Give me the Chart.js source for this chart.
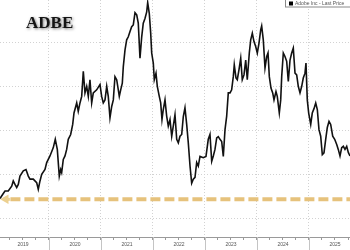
<!DOCTYPE html>
<html>
<head>
<meta charset="utf-8">
<script src="https://cdn.jsdelivr.net/npm/chart.js@4.4.1/dist/chart.umd.min.js"></script>
<style>
	html, body { margin: 0; padding: 0; background: #fff; }
	#wrap { width: 350px; height: 250px; position: relative; }
</style>
</head>
<body>
<div id="wrap"><canvas id="myChart"></canvas></div>
<script>
const tickerName = 'ADBE'
const legendLabel = 'Adobe Inc - Last Price'
const yearLabels = ['2019', '2020', '2021', '2022', '2023', '2024', '2025']
const gridLevels = [200, 300, 400, 500, 600]
const baseLevel = 243

// decimal years
const priceTimes = [
	2019.058, 2019.115, 2019.154, 2019.217, 2019.283, 2019.313, 2019.346, 2019.379, 2019.410, 2019.442,
	2019.506, 2019.558, 2019.602, 2019.635, 2019.698, 2019.763, 2019.794, 2019.827, 2019.860, 2019.923,
	2019.956, 2020.019, 2020.083, 2020.121, 2020.160, 2020.198, 2020.225, 2020.244, 2020.275, 2020.308,
	2020.340, 2020.371, 2020.417, 2020.456, 2020.481, 2020.533, 2020.563, 2020.596, 2020.629, 2020.660,
	2020.692, 2020.725, 2020.756, 2020.788, 2020.821, 2020.852, 2020.917, 2020.981, 2021.013, 2021.044,
	2021.077, 2021.110, 2021.140, 2021.173, 2021.206, 2021.237, 2021.269, 2021.302, 2021.333, 2021.352,
	2021.379, 2021.410, 2021.429, 2021.462, 2021.494, 2021.525, 2021.558, 2021.590, 2021.621, 2021.654,
	2021.687, 2021.717, 2021.750, 2021.783, 2021.813, 2021.846, 2021.879, 2021.898, 2021.929, 2021.956,
	2021.975, 2022.006, 2022.025, 2022.058, 2022.083, 2022.121, 2022.148, 2022.173, 2022.198, 2022.231,
	2022.263, 2022.294, 2022.327, 2022.360, 2022.390, 2022.423, 2022.456, 2022.487, 2022.519, 2022.552,
	2022.583, 2022.615, 2022.648, 2022.679, 2022.712, 2022.744, 2022.775, 2022.808, 2022.840, 2022.871,
	2022.904, 2022.967, 2023.019, 2023.063, 2023.096, 2023.129, 2023.160, 2023.192, 2023.225, 2023.256,
	2023.288, 2023.321, 2023.352, 2023.385, 2023.417, 2023.448, 2023.481, 2023.513, 2023.544, 2023.563,
	2023.596, 2023.621, 2023.654, 2023.687, 2023.717, 2023.750, 2023.783, 2023.813, 2023.852, 2023.879,
	2023.910, 2023.942, 2023.975, 2024.006, 2024.038, 2024.071, 2024.090, 2024.121, 2024.154, 2024.187,
	2024.212, 2024.237, 2024.269, 2024.302, 2024.327, 2024.365, 2024.390, 2024.429, 2024.456, 2024.475,
	2024.506, 2024.538, 2024.571, 2024.602, 2024.635, 2024.667, 2024.698, 2024.731, 2024.763, 2024.794,
	2024.827, 2024.860, 2024.890, 2024.923, 2024.942, 2024.967, 2024.994, 2025.033, 2025.063, 2025.096,
	2025.129, 2025.160, 2025.192, 2025.225, 2025.256, 2025.288, 2025.321, 2025.352, 2025.385, 2025.417,
	2025.456, 2025.494, 2025.533, 2025.563, 2025.596, 2025.629, 2025.660, 2025.692, 2025.725, 2025.756,
	2025.788
]

// last price in USD
const priceValues = [
	245, 255, 262, 262, 273, 285, 277, 270, 277, 296,
	308, 311, 296, 289, 289, 281, 266, 285, 300, 311,
	327, 342, 361, 380, 357, 296, 311, 304, 334, 342,
	357, 380, 391, 414, 440, 463, 444, 463, 478, 535,
	486, 501, 478, 516, 463, 486, 493, 505, 478, 463,
	470, 501, 478, 429, 455, 470, 523, 516, 493, 478,
	493, 508, 546, 584, 607, 614, 626, 637, 641, 669,
	664, 645, 565, 614, 645, 656, 671, 692, 667, 622,
	577, 554, 516, 531, 501, 478, 463, 425, 448, 470,
	433, 410, 425, 387, 410, 436, 380, 372, 387, 391,
	432, 452, 414, 372, 319, 280, 289, 293, 327, 319,
	341, 338, 341, 380, 391, 330, 342, 357, 383, 386,
	380, 375, 341, 402, 433, 486, 486, 493, 523, 550,
	520, 516, 539, 565, 516, 527, 561, 516, 577, 607,
	622, 603, 592, 577, 599, 630, 639, 607, 543, 569,
	577, 523, 497, 486, 470, 489, 478, 440, 470, 523,
	577, 569, 558, 512, 561, 577, 588, 531, 527, 501,
	486, 501, 520, 531, 554, 470, 440, 414, 440, 450,
	463, 448, 402, 387, 345, 349, 380, 407, 421, 414,
	387, 380, 368, 357, 342, 361, 364, 357, 364, 350,
	342
]

const lineColor = '#111111'
const baseColor = '#e6c27c'
const gridColor = '#d2d2d2'

var pricePoints = []
for (var i = 0; i < priceTimes.length; i++) {
	pricePoints.push({ x: priceTimes[i], y: priceValues[i] })
}

var xStart = priceTimes[0]
var xEnd = priceTimes[priceTimes.length - 1]

// quarter ticks, label sits in the middle of each year
var quarterTicks = []
yearLabels.forEach(function (label) {
	var yr = Number(label)
	for (var q = 0; q < 4; q++) {
		var v = yr + q * 0.25
		if (v > xStart && v < xEnd) quarterTicks.push({ value: v })
	}
})

const decorations = {
	id: 'decorations',
	afterDatasetsDraw(chart) {
		var ctx = chart.ctx
		var xs = chart.scales.x
		var area = chart.chartArea
		ctx.save()

		// solid x axis line
		ctx.strokeStyle = '#9a9a9a'
		ctx.lineWidth = 1
		ctx.beginPath()
		ctx.moveTo(0, Math.round(area.bottom) + 0.5)
		ctx.lineTo(chart.width, Math.round(area.bottom) + 0.5)
		ctx.stroke()

		// year separators run on below the axis
		ctx.strokeStyle = '#c4c4c4'
		yearLabels.forEach(function (label) {
			var px = xs.getPixelForValue(Number(label))
			if (px < 1) return
			px = Math.round(px) + 0.5
			ctx.beginPath()
			ctx.moveTo(px, area.bottom)
			ctx.lineTo(px, chart.height)
			ctx.stroke()
		})

		// ticker title with soft shadow
		ctx.font = 'bold 17px "Liberation Serif", "DejaVu Serif", serif'
		ctx.textBaseline = 'alphabetic'
		ctx.shadowColor = 'rgba(0,0,0,0.55)'
		ctx.shadowBlur = 3
		ctx.shadowOffsetX = 1
		ctx.shadowOffsetY = 1
		ctx.fillStyle = '#151515'
		ctx.fillText(tickerName, 26, 28)

		// small legend box top right
		ctx.shadowColor = 'transparent'
		ctx.shadowBlur = 0
		ctx.fillStyle = '#ffffff'
		ctx.fillRect(285, -1, 70, 8)
		ctx.strokeStyle = '#8a8a8a'
		ctx.strokeRect(285.5, -0.5, 70, 7.5)
		ctx.fillStyle = '#000'
		ctx.fillRect(289, 1.5, 4, 4)
		ctx.font = '5px "Liberation Sans", Arial, sans-serif'
		ctx.fillStyle = '#555'
		ctx.textBaseline = 'middle'
		ctx.fillText(legendLabel, 295, 3.7)
		ctx.restore()
	}
}

var ctx = document.getElementById('myChart')
var lineChart = new Chart(ctx, {
	type: 'line',
	data: {
		datasets: [{
			label: legendLabel,
			data: pricePoints,
			borderColor: lineColor,
			borderWidth: 1.6,
			pointRadius: 0,
			tension: 0,
			order: 0
		}, {
			label: 'base',
			data: [{ x: xStart + 0.2, y: baseLevel }, { x: xEnd, y: baseLevel }],
			borderColor: baseColor,
			borderWidth: 4,
			borderDash: [10, 4],
			borderCapStyle: 'butt',
			pointRadius: 0,
			order: 2
		}, {
			// stem of the arrow
			label: 'arrowStem',
			data: [{ x: xStart + 0.06, y: baseLevel }, { x: xStart + 0.19, y: baseLevel }],
			borderColor: '#ecd090',
			borderWidth: 3,
			pointRadius: 0,
			order: 1
		}, {
			label: 'arrow',
			data: [{ x: xStart + 0.11, y: baseLevel }],
			showLine: false,
			pointStyle: 'triangle',
			rotation: -90,
			pointRadius: 5.5,
			pointBackgroundColor: '#ecd090',
			pointBorderWidth: 0,
			order: 1
		}]
	},
	options: {
		responsive: true,
		maintainAspectRatio: false,
		animation: false,
		layout: { padding: 0, autoPadding: false },
		plugins: {
			legend: { display: false },
			tooltip: { enabled: false }
		},
		scales: {
			x: {
				type: 'linear',
				min: xStart,
				max: xEnd,
				afterBuildTicks: function (scale) {
					scale.ticks = quarterTicks.slice()
				},
				ticks: {
					autoSkip: false,
					maxRotation: 0,
					padding: 2,
					color: '#555',
					font: { family: '"Liberation Sans", Arial, sans-serif', size: 5 },
					callback: function (value) {
						var frac = value - Math.floor(value)
						return Math.abs(frac - 0.5) < 0.001 ? String(Math.floor(value)) : ''
					}
				},
				grid: {
					color: function (c) {
						return c.tick && Number.isInteger(c.tick.value) ? gridColor : 'rgba(0,0,0,0)'
					},
					tickColor: '#9a9a9a',
					tickLength: 3,
					tickBorderDash: []
				},
				border: { display: false, dash: [1, 2] }
			},
			y: {
				min: 157,
				max: 698,
				afterBuildTicks: function (scale) {
					scale.ticks = gridLevels.map(function (v) { return { value: v } })
				},
				afterFit: function (scale) {
					scale.width = 0
				},
				ticks: { display: false },
				grid: { color: gridColor, drawTicks: false },
				border: { display: false, dash: [1, 2] }
			}
		}
	},
	plugins: [decorations]
})
</script>
</body>
</html>
